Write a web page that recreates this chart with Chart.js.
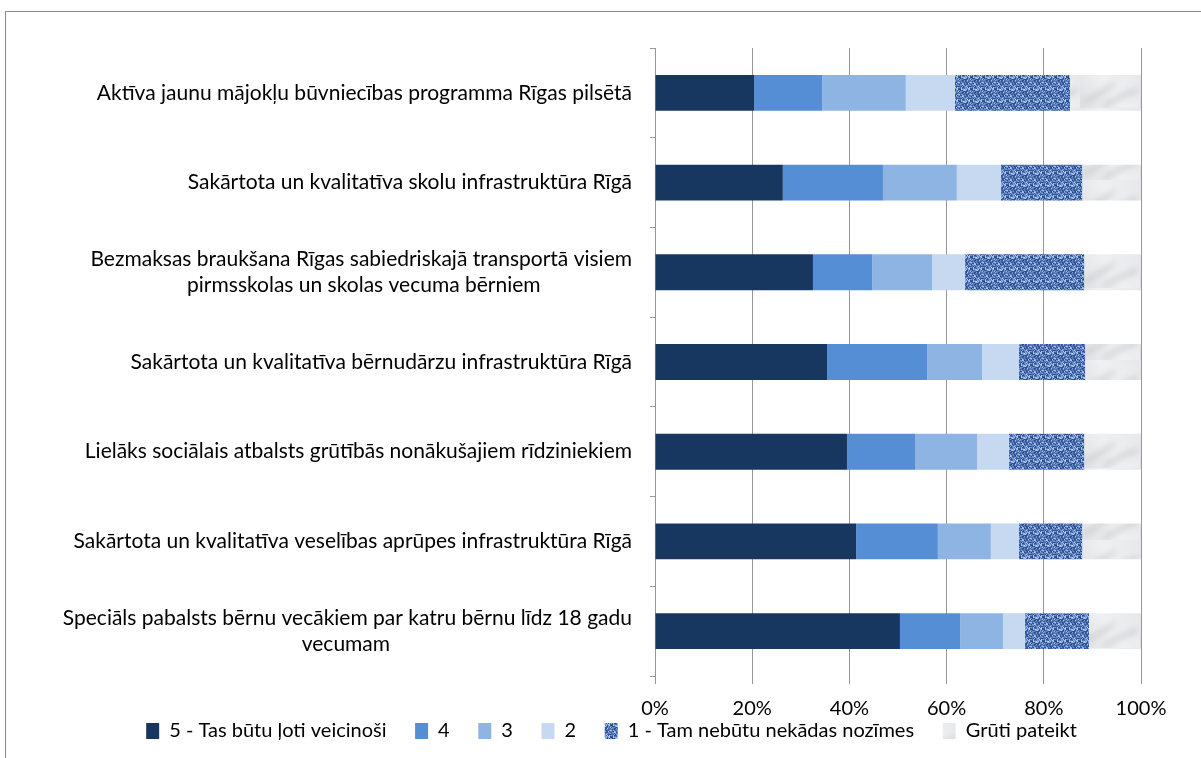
<!DOCTYPE html>
<html>
<head>
<meta charset="utf-8">
<script src="https://cdn.jsdelivr.net/npm/chart.js@4"></script>
<style>
  body { margin: 0; background: #fff; }
  .frame { position: absolute; left: 5px; top: 11px; width: 1300px; height: 800px; border-top: 1px solid #8c8c8c; border-left: 1px solid #8c8c8c; }
  #grafico { position: absolute; left: 0; top: 0; }
</style>
</head>
<body>
<div class="frame"></div>
<canvas id="grafico" width="1201" height="758"></canvas>
<script>
const categories = [
  ['Aktīva jaunu mājokļu būvniecības programma Rīgas pilsētā'],
  ['Sakārtota un kvalitatīva skolu infrastruktūra Rīgā'],
  ['Bezmaksas braukšana Rīgas sabiedriskajā transportā visiem', 'pirmsskolas un skolas vecuma bērniem'],
  ['Sakārtota un kvalitatīva bērnudārzu infrastruktūra Rīgā'],
  ['Lielāks sociālais atbalsts grūtībās nonākušajiem rīdziniekiem'],
  ['Sakārtota un kvalitatīva veselības aprūpes infrastruktūra Rīgā'],
  ['Speciāls pabalsts bērnu vecākiem par katru bērnu līdz 18 gadu', 'vecumam'],
]
const seriesNames = ['5 - Tas būtu ļoti veicinoši', '4', '3', '2', '1 - Tam nebūtu nekādas nozīmes', 'Grūti pateikt']
const values5 = [20.4, 26.3, 32.5, 35.4, 39.5, 41.4, 50.4]
const values4 = [14.0, 20.6, 12.2, 20.6, 14.0, 16.8, 12.4]
const values3 = [17.2, 15.2, 12.3, 11.3, 12.8, 10.9, 8.8]
const values2 = [10.1, 9.1, 6.8, 7.6, 6.5, 5.8, 4.5]
const values1 = [23.7, 16.7, 24.5, 13.6, 15.5, 13.0, 13.2]
const valuesGruti = [14.6, 12.1, 11.7, 11.5, 11.7, 12.1, 10.7]
const tickLabels = ['0%', '20%', '40%', '60%', '80%', '100%']

const fontFamily = 'Lato, "Open Sans", sans-serif'
const labelSize = 21
const fontSize = 20

// second line of a label sits centred under the first one
function centerLines(lines) {
  if (lines.length < 2) return lines[0]
  const m = document.createElement('canvas').getContext('2d')
  m.font = labelSize + 'px ' + fontFamily
  const w0 = m.measureText(lines[0]).width
  const sp = m.measureText(' ').width
  return lines.map((line) => {
    const n = Math.round((w0 - m.measureText(line).width) / 2 / sp)
    return line + ' '.repeat(Math.max(0, n))
  })
}

// denim-like texture for "1 - Tam nebūtu..."
function denimPattern() {
  const c = document.createElement('canvas')
  c.width = 12
  c.height = 12
  const g = c.getContext('2d')
  const palette = ['#34558f', '#5476b6', '#7d9edb', '#a6c2ee', '#40629f', '#6a8dcc', '#2a4883']
  for (let x = 0; x < 12; x++) {
    for (let y = 0; y < 12; y++) {
      const k = (x * 5 + y * 3 + ((x * y) % 4) + (x % 3 === 0 ? 2 : 0) + (y % 4 === 1 ? 3 : 0)) % palette.length
      g.fillStyle = palette[k]
      g.fillRect(x, y, 1, 1)
    }
  }
  return g.createPattern(c, 'repeat')
}

// grey marble-like texture for "Grūti pateikt"
function marblePattern() {
  const c = document.createElement('canvas')
  c.width = 60
  c.height = 36
  const g = c.getContext('2d')
  const grad = g.createLinearGradient(0, 36, 60, 0)
  grad.addColorStop(0, '#dfe0e3')
  grad.addColorStop(0.5, '#eff0f2')
  grad.addColorStop(1, '#e7e8eb')
  g.fillStyle = grad
  g.fillRect(0, 0, 60, 36)
  g.filter = 'blur(3px)'
  g.strokeStyle = 'rgba(140,140,145,0.4)'
  g.lineWidth = 3
  g.beginPath()
  g.moveTo(4, 30); g.quadraticCurveTo(20, 22, 34, 12)
  g.moveTo(24, 34); g.quadraticCurveTo(40, 24, 58, 18)
  g.stroke()
  return g.createPattern(c, 'repeat')
}

const colors = ['#183760', '#558ed5', '#8eb4e3', '#c6d9f1', denimPattern(), marblePattern()]
const seriesValues = [values5, values4, values3, values2, values1, valuesGruti]

const ctx = document.getElementById('grafico').getContext('2d')
const grafico = new Chart(ctx, {
  type: 'bar',
  data: {
    labels: categories.map(centerLines),
    datasets: seriesNames.map((name, i) => ({
      label: name,
      data: seriesValues[i],
      backgroundColor: colors[i],
      borderWidth: 0,
      barPercentage: 0.5,
      categoryPercentage: 0.8
    }))
  },
  options: {
    indexAxis: 'y',
    responsive: false,
    animation: false,
    layout: { padding: { top: 48, right: 0, left: 22, bottom: 7 } },
    plugins: {
      legend: {
        position: 'bottom',
        labels: {
          color: '#000',
          font: { family: fontFamily, size: fontSize },
          boxWidth: 13,
          boxHeight: 16,
          padding: 3,
          // gap after each entry, as in the original legend
          generateLabels: (chart) => Chart.defaults.plugins.legend.labels.generateLabels(chart)
            .map((item, i, all) => ({ ...item, text: i < all.length - 1 ? item.text + '     ' : item.text }))
        }
      },
      tooltip: { enabled: false }
    },
    scales: {
      x: {
        stacked: true,
        min: 0,
        max: 100,
        afterFit: (s) => { s.height = 42 },
        border: { display: false },
        grid: { color: '#979797', lineWidth: 1, tickLength: 8 },
        ticks: {
          stepSize: 20,
          color: '#000',
          padding: 13,
          font: { family: fontFamily, size: fontSize },
          callback: (v) => tickLabels[v / 20]
        }
      },
      y: {
        stacked: true,
        afterFit: (s) => { s.width = 655 - 22 },
        border: { display: true, color: '#979797', width: 1 },
        grid: { drawOnChartArea: false, color: '#979797', tickLength: 5 },
        ticks: {
          color: '#000',
          padding: 18,
          font: { family: fontFamily, size: labelSize }
        }
      },
      // empty strip on the right of the plot
      yRight: {
        type: 'linear',
        position: 'right',
        afterFit: (s) => { s.width = 60 },
        border: { display: false },
        grid: { display: false },
        ticks: { display: false }
      }
    }
  }
})
</script>
</body>
</html>
